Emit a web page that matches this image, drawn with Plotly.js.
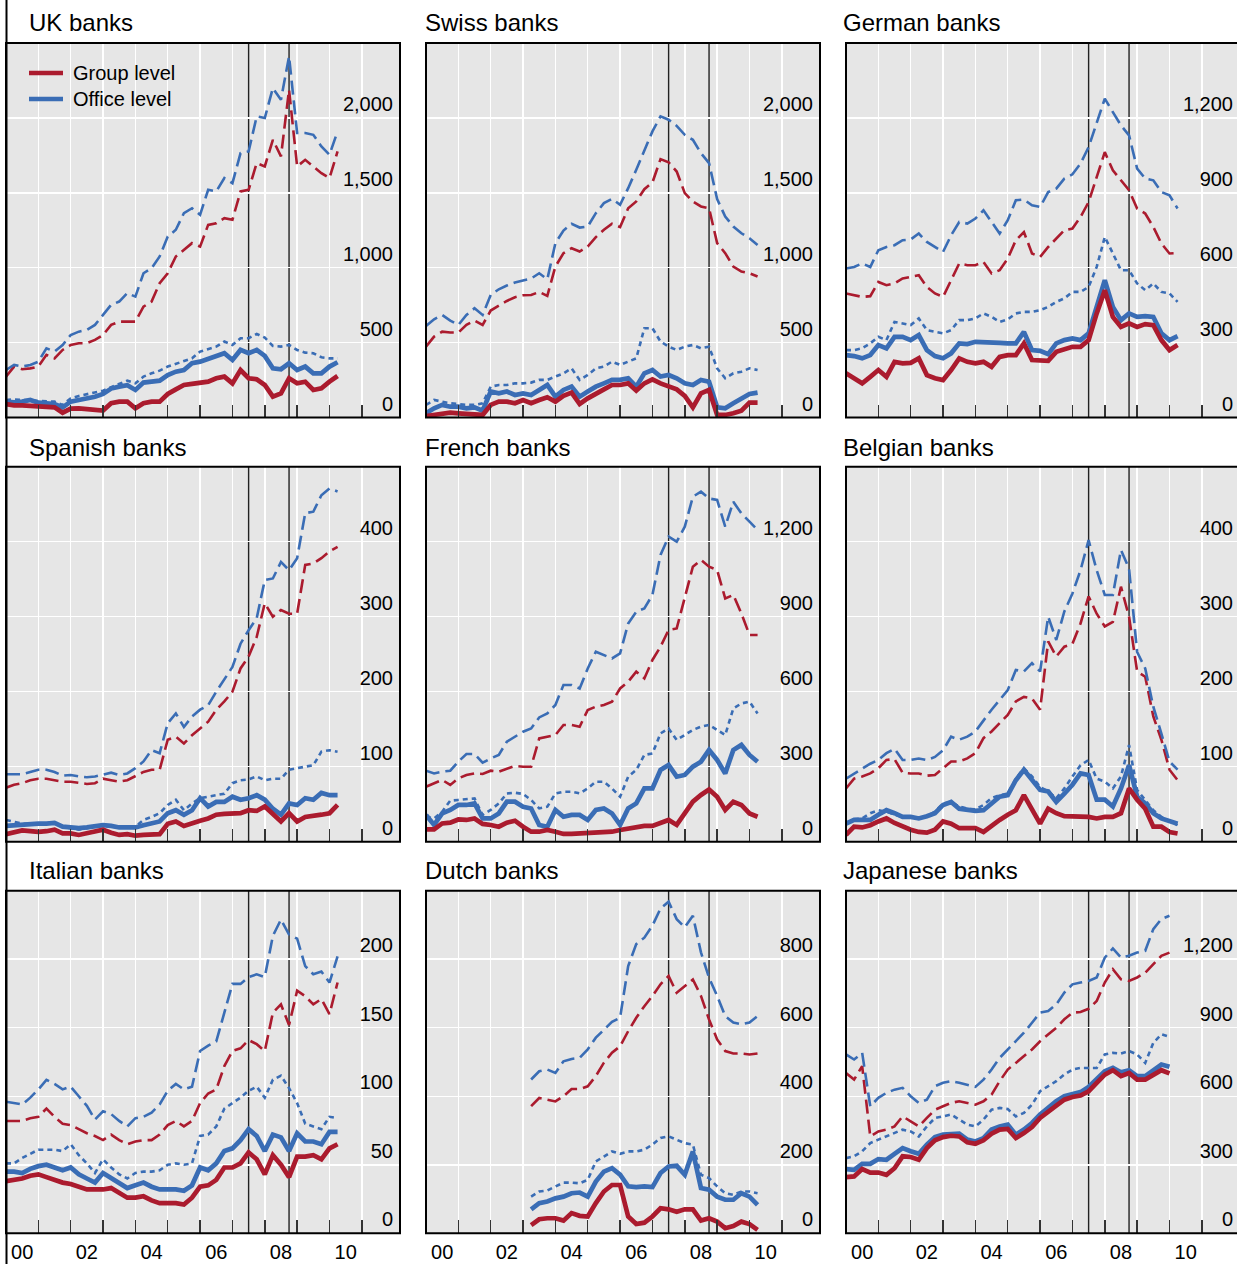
<!DOCTYPE html>
<html>
<head>
<meta charset="utf-8">
<script src="https://cdn.plot.ly/plotly-3.0.1.min.js"></script>
<style>
  html, body { margin: 0; padding: 0; background: #fff; overflow: hidden; }
  #chart { width: 1246px; height: 1264px; }
</style>
</head>
<body>
<div id="chart"></div>
<script>
// Quarterly observations, 2000 Q1 to 2010 Q2 (USD billions)
const START_YEAR = 2000;
const N_QUARTERS = 42;
const quarters = Array.from({ length: N_QUARTERS }, (_, i) => START_YEAR + i / 4);

// Event markers (mid-2007 and Q3 2008)
const eventDates = [2007.5, 2008.75];

// Year tick labels on the bottom row
const yearLabelPos = [2000.5, 2002.5, 2004.5, 2006.5, 2008.5, 2010.5];
const yearLabels = ['00', '02', '04', '06', '08', '10'];
const yearBoundaries = [2001, 2002, 2003, 2004, 2005, 2006, 2007, 2008, 2009, 2010, 2011];

// ---- UK banks
const ukGroupDashed  = [273,340,322,328,340,418,395,451,484,496,496,518,551,618,640,640,640,740,774,896,963,1075,1119,1164,1141,1286,1297,1331,1320,1509,1520,1698,1676,1854,1743,2188,1676,1720,1676,1631,1598,1776];
const ukOfficeDashed = [317,351,340,351,373,462,440,484,551,573,585,618,685,752,774,830,807,963,997,1075,1208,1253,1364,1397,1353,1520,1509,1598,1564,1765,1776,2010,1999,2199,2121,2411,1899,1899,1887,1809,1754,1910];
const ukOfficeDotted = [117,121,117,117,110,106,106,84,128,144,157,166,179,202,224,246,228,273,295,313,340,357,373,395,440,455,473,507,484,529,529,558,533,478,473,484,451,433,429,402,395,395];
const ukOfficeSolid  = [106,101,106,117,99,95,90,68,106,117,126,139,157,193,206,215,184,233,239,246,284,306,317,362,373,389,411,429,384,451,429,451,411,328,322,362,317,340,295,295,340,369];
const ukGroupSolid   = [90,81,81,77,77,72,68,32,59,61,55,50,46,95,106,106,61,95,106,106,157,188,217,224,228,239,262,273,228,317,262,255,217,139,161,262,228,239,184,195,239,277];

// ---- Swiss banks
const chGroupDashed  = [473,540,573,567,567,618,647,618,714,745,778,803,816,818,838,812,1008,1097,1130,1108,1141,1204,1253,1293,1271,1397,1442,1524,1569,1725,1703,1642,1498,1442,1409,1397,1164,1097,1008,974,963,941];
const chOfficeDashed = [611,656,685,647,618,685,729,685,818,856,881,901,914,928,963,923,1164,1248,1293,1268,1275,1364,1431,1460,1420,1531,1654,1787,1910,2010,1988,1947,1887,1854,1765,1698,1458,1342,1275,1230,1197,1152];
const chOfficeDotted = [84,117,106,95,90,84,84,95,206,217,217,228,228,233,251,251,273,295,328,251,284,328,340,373,351,373,395,596,596,507,473,451,473,484,462,473,328,262,295,306,328,317];
const chOfficeSolid  = [28,61,84,72,72,61,68,46,173,161,173,150,161,150,184,217,139,184,206,139,173,206,228,251,251,262,206,295,317,273,284,262,228,217,251,239,68,61,95,128,157,166];
const chGroupSolid   = [10,17,23,32,28,23,23,17,84,106,106,95,117,95,117,135,106,144,166,90,128,161,188,217,217,228,179,228,255,228,210,188,144,68,161,184,17,17,28,46,99,99];

// ---- German banks
const deGroupDashed  = [497,490,483,486,543,530,537,557,563,570,523,497,483,550,617,610,610,623,577,590,637,710,743,657,643,683,717,750,757,803,863,963,1063,990,950,910,837,817,763,697,657,659];
const deOfficeDashed = [597,603,617,603,670,683,690,710,713,737,703,683,663,730,783,777,797,830,783,737,790,870,873,850,843,903,917,957,974,1017,1083,1177,1277,1223,1170,1130,997,957,950,903,890,837];
const deOfficeDotted = [270,270,277,297,323,310,383,377,370,397,350,343,337,350,390,390,397,417,403,383,393,417,423,423,430,443,463,477,503,503,523,603,723,657,590,590,537,510,537,503,497,463];
const deOfficeSolid  = [250,246,237,250,290,277,323,323,310,330,270,246,237,257,297,294,303,303,303,299,297,297,343,270,267,254,297,310,317,310,337,443,550,443,390,417,403,406,403,337,310,326];
const deGroupSolid   = [177,157,137,163,190,163,223,217,219,237,170,157,150,190,237,223,217,223,203,243,250,250,297,230,230,227,263,273,283,283,310,417,510,403,363,377,363,374,370,310,270,290];

// ---- Spanish banks
const esGroupDashed  = [72,76,78,82,84,84,82,80,80,78,77,78,84,82,80,82,87,93,96,96,136,140,131,142,151,160,176,187,200,231,247,273,318,300,309,304,304,369,371,378,387,393];
const esOfficeDashed = [90,90,90,93,96,96,93,88,89,87,86,87,90,92,89,91,98,107,122,118,158,171,153,167,176,182,200,216,233,264,282,298,349,351,373,362,378,438,440,462,471,467];
const esOfficeDotted = [29,27,24,24,24,24,25,20,18,16,18,20,22,20,19,19,20,29,33,38,49,56,42,51,58,60,62,64,78,82,83,87,82,84,84,96,98,100,102,120,122,120];
const esOfficeSolid  = [21,22,22,24,24,24,25,20,19,18,19,21,22,21,19,19,19,22,24,27,38,42,36,42,58,47,53,53,60,56,58,62,56,44,36,51,49,58,56,65,62,62];
const esGroupSolid   = [10,13,15,14,13,14,16,11,11,9,11,13,16,12,9,10,8,9,10,10,24,27,21,25,28,31,36,37,38,38,42,41,47,38,27,38,27,33,34,36,38,49];

// ---- French banks
const frGroupDashed  = [220,233,247,227,253,267,273,271,284,280,293,303,300,300,413,420,427,467,467,460,527,540,547,560,613,640,680,653,727,780,847,853,980,1100,1127,1100,1087,973,987,913,827,827];
const frOfficeDashed = [284,273,280,284,320,351,351,316,333,347,400,420,440,453,497,513,547,627,627,613,693,760,747,733,753,873,920,933,987,1147,1220,1200,1260,1380,1400,1373,1367,1260,1360,1313,1280,1247];
const frOfficeDotted = [100,93,120,164,167,169,173,107,127,153,193,196,191,167,133,140,193,200,200,193,213,240,240,213,180,260,287,347,353,433,453,407,427,447,460,467,447,427,533,553,560,513];
const frOfficeSolid  = [107,67,113,127,147,147,153,93,93,113,160,160,140,133,67,60,127,100,107,107,87,127,133,113,67,133,153,213,213,287,307,260,267,300,320,367,327,273,367,387,347,320];
const frGroupSolid   = [49,49,73,76,89,87,93,71,67,60,76,84,60,40,40,47,40,31,31,33,33,33,36,40,47,53,57,63,63,73,87,67,113,160,187,209,180,127,160,147,113,100];

// ---- Belgian banks
const beGroupDashed  = [71,84,87,91,98,109,110,92,91,91,88,89,98,107,107,111,118,138,147,158,169,187,193,191,176,267,247,260,264,291,327,304,287,293,340,300,227,220,167,136,96,82];
const beOfficeDashed = [84,91,98,104,109,118,124,109,109,111,109,113,122,140,136,140,147,162,176,189,202,229,227,238,227,300,269,307,331,362,402,362,329,329,389,364,253,231,180,144,107,96];
const beOfficeDotted = [24,30,31,38,42,40,36,33,33,31,34,40,51,53,47,44,43,49,58,62,64,84,98,87,73,67,58,71,87,102,109,84,80,71,87,129,69,56,42,33,27,22];
const beOfficeSolid  = [24,29,29,29,36,42,38,33,33,31,34,38,49,53,44,42,41,42,51,60,62,82,96,82,69,67,53,64,76,91,89,56,56,47,71,102,60,51,38,31,27,24];
const beGroupSolid   = [9,20,19,22,27,31,25,20,16,13,12,16,27,24,18,18,18,13,22,29,36,42,62,42,24,44,38,34,34,34,33,31,33,33,38,71,56,44,20,20,13,11];

// ---- Italian banks
const itGroupDashed  = [82,82,82,84,85,91,85,80,79,76,73,71,68,72,68,65,67,68,68,72,79,82,78,82,95,102,105,122,133,135,141,138,133,161,167,152,177,173,167,171,160,183];
const itOfficeDashed = [96,95,94,99,105,112,109,105,107,100,93,83,89,87,82,78,84,85,88,94,104,109,105,107,133,137,140,161,182,182,187,189,187,217,229,218,215,195,189,191,183,202];
const itOfficeDotted = [51,51,55,58,61,61,61,60,65,57,51,44,54,48,43,40,44,45,45,46,50,51,50,51,71,72,78,91,95,99,104,107,99,112,115,106,95,80,78,76,85,84];
const itOfficeSolid  = [45,45,44,47,49,50,48,46,48,43,40,37,44,40,37,33,35,37,34,32,32,32,31,35,48,46,51,60,62,68,76,71,60,72,70,60,73,67,67,65,74,74];
const itGroupSolid   = [38,39,40,42,43,41,39,37,36,34,32,32,32,33,29,26,26,27,24,22,22,22,21,26,34,35,39,48,48,51,59,54,43,57,50,41,56,56,57,54,62,65];

// ---- Dutch banks (reported from 2003 Q2)
const nlGroupDashed  = [null,null,null,null,null,null,null,null,null,null,null,null,null,371,395,390,385,400,421,421,429,459,498,527,546,590,629,663,693,727,751,702,722,741,693,624,566,532,525,525,522,525];
const nlOfficeDashed = [null,null,null,null,null,null,null,null,null,null,null,null,null,449,473,478,468,502,509,512,537,571,595,617,629,780,844,863,898,948,968,917,893,927,820,746,693,634,615,610,615,634];
const nlOfficeDotted = [null,null,null,null,null,null,null,null,null,null,null,null,null,107,122,125,137,148,148,146,156,210,224,239,232,239,239,244,259,278,283,273,263,259,171,161,137,117,112,122,122,117];
const nlOfficeSolid  = [null,null,null,null,null,null,null,null,null,null,null,null,null,70,88,93,102,107,117,119,107,151,180,190,171,137,135,137,135,176,195,197,171,239,132,127,107,98,98,117,107,83];
const nlGroupSolid   = [null,null,null,null,null,null,null,null,null,null,null,null,null,24,41,44,44,37,59,51,49,88,122,141,141,49,27,31,49,73,70,63,70,70,37,44,34,15,21,34,27,10];

// ---- Japanese banks (through 2010 Q1)
const jpGroupDashed  = [702,673,732,424,446,454,468,512,490,468,505,541,556,571,578,571,563,578,607,666,717,746,776,805,841,871,900,937,966,969,983,1017,1098,1156,1112,1105,1120,1141,1178,1215,1229,null];
const jpOfficeDashed = [783,761,790,556,593,615,629,637,600,571,585,644,659,666,659,651,641,673,717,768,805,841,878,922,966,973,1002,1054,1090,1098,1105,1120,1207,1247,1207,1215,1229,1237,1332,1376,1390,null];
const jpOfficeDotted = [329,337,359,395,410,424,439,454,446,424,468,505,512,520,498,476,468,498,541,549,544,512,527,563,622,644,666,695,717,724,724,724,783,790,787,798,783,746,834,871,860,null];
const jpOfficeSolid  = [281,278,304,304,325,322,348,373,359,348,388,421,432,436,436,410,402,417,454,468,476,432,454,483,520,549,578,600,610,618,641,673,710,724,705,714,688,688,714,739,729,null];
const jpGroupSolid   = [246,249,281,266,266,256,285,337,334,322,373,407,421,427,424,398,392,407,436,454,457,417,439,465,505,534,559,585,597,603,622,659,695,714,688,702,673,673,695,714,700,null];

// Panel titles and y-axis scales (max, tick step)
const panelTitles = ['UK banks', 'Swiss banks', 'German banks', 'Spanish banks', 'French banks', 'Belgian banks', 'Italian banks', 'Dutch banks', 'Japanese banks'];
const yMax  = [2500, 2500, 1500, 500, 1500, 500, 250, 1000, 1500];
const yStep = [500, 500, 300, 100, 300, 100, 50, 200, 300];

// Legend entries
const legendNames = ['Group level', 'Office level'];

const panelSeries = [
  [ukGroupDashed, ukOfficeDashed, ukOfficeDotted, ukOfficeSolid, ukGroupSolid],
  [chGroupDashed, chOfficeDashed, chOfficeDotted, chOfficeSolid, chGroupSolid],
  [deGroupDashed, deOfficeDashed, deOfficeDotted, deOfficeSolid, deGroupSolid],
  [esGroupDashed, esOfficeDashed, esOfficeDotted, esOfficeSolid, esGroupSolid],
  [frGroupDashed, frOfficeDashed, frOfficeDotted, frOfficeSolid, frGroupSolid],
  [beGroupDashed, beOfficeDashed, beOfficeDotted, beOfficeSolid, beGroupSolid],
  [itGroupDashed, itOfficeDashed, itOfficeDotted, itOfficeSolid, itGroupSolid],
  [nlGroupDashed, nlOfficeDashed, nlOfficeDotted, nlOfficeSolid, nlGroupSolid],
  [jpGroupDashed, jpOfficeDashed, jpOfficeDotted, jpOfficeSolid, jpGroupSolid]
];

// ---- Styling
const RED = '#AB1B2E';
const BLUE = '#3A6DB5';
const FONT = 'Liberation Sans, Arial, Helvetica, sans-serif';
const W = 1246, H = 1264;

// panel boxes in pixels
const colPx = [[6, 400], [426, 820], [846, 1240]];
const rowPx = [[43, 417.5], [466.7, 841.7], [890.7, 1233.3]];
const titleX = [27, 423, 841];
const titleY = [23, 447, 870];

const lineStyles = [
  { color: RED,  width: 2.6, dash: '14px,6px' },
  { color: BLUE, width: 2.6, dash: '14px,6px' },
  { color: BLUE, width: 2.6, dash: '5px,4px' },
  { color: BLUE, width: 4.7, dash: 'solid' },
  { color: RED,  width: 4.7, dash: 'solid' }
];

const traces = [];
const layout = {
  width: W, height: H,
  margin: { l: 0, r: 0, t: 0, b: 0 },
  paper_bgcolor: '#ffffff',
  plot_bgcolor: '#E6E6E6',
  font: { family: FONT, size: 20, color: '#000' },
  showlegend: false,
  shapes: [],
  annotations: []
};

for (let k = 0; k < 9; k++) {
  const r = Math.floor(k / 3), c = k % 3, n = k + 1;
  const xa = 'xaxis' + (n === 1 ? '' : n), ya = 'yaxis' + (n === 1 ? '' : n);
  const xr = 'x' + (n === 1 ? '' : n), yr = 'y' + (n === 1 ? '' : n);
  const x0 = colPx[c][0] / W, x1 = colPx[c][1] / W;
  const y0 = 1 - rowPx[r][1] / H, y1 = 1 - rowPx[r][0] / H;

  const ticks = [];
  for (let v = 0; v < yMax[k]; v += yStep[k]) ticks.push(v);

  layout[xa] = {
    domain: [x0, x1],
    anchor: yr,
    range: [2000, 2012.18],
    showgrid: false, zeroline: false,
    tickmode: 'array', tickvals: yearLabelPos, ticktext: yearLabels,
    showticklabels: r === 2, ticks: '',
    ticklabelstandoff: 5,
    tickfont: { family: FONT, size: 20, color: '#000' },
    minor: {
      tickmode: 'array', tickvals: yearBoundaries,
      ticks: 'inside', ticklen: 13, tickwidth: 1.5, tickcolor: '#333',
      showgrid: true, gridcolor: '#ffffff', gridwidth: 1.5
    },
    showline: false,
    fixedrange: true
  };
  // value axis sits on the right edge, labels drawn leftwards into the panel
  layout[ya] = {
    domain: [y0, y1],
    anchor: 'free', position: x1,
    side: 'left',
    range: [0, yMax[k]],
    tickmode: 'array', tickvals: ticks,
    tickformat: ',d',
    ticks: '',
    ticklabelposition: 'outside top',
    ticklabelstandoff: 7,
    ticklabeloverflow: 'allow',
    tickfont: { family: FONT, size: 20, color: '#000' },
    showgrid: true, gridcolor: '#ffffff', gridwidth: 1.5,
    zeroline: false,
    showline: false,
    fixedrange: true
  };

  panelSeries[k].forEach((vals, s) => {
    traces.push({
      type: 'scatter', mode: 'lines',
      x: quarters, y: vals,
      xaxis: xr, yaxis: yr,
      line: Object.assign({}, lineStyles[s]),
      connectgaps: false,
      hoverinfo: 'skip'
    });
  });

  eventDates.forEach(d => {
    layout.shapes.push({
      type: 'line', xref: xr, yref: 'paper',
      x0: d, x1: d, y0: y0, y1: y1,
      line: { color: '#222', width: 1.4 },
      layer: 'below'
    });
  });

  // panel frame
  layout.shapes.push({
    type: 'rect', xref: 'paper', yref: 'paper',
    x0: x0, x1: x1, y0: y0, y1: y1,
    line: { color: '#000', width: 2 }, fillcolor: 'rgba(0,0,0,0)',
    layer: 'above'
  });

  layout.annotations.push({
    text: panelTitles[k], showarrow: false,
    xref: 'paper', yref: 'paper',
    x: titleX[c] / W, y: 1 - titleY[r] / H,
    xanchor: 'left', yanchor: 'middle',
    font: { family: FONT, size: 24, color: '#000' }
  });
}

// legend keys inside the first panel
const legendColors = [RED, BLUE];
const legendRowsPx = [73, 99];
legendNames.forEach((name, i) => {
  const yy = 1 - legendRowsPx[i] / H;
  layout.shapes.push({
    type: 'line', xref: 'paper', yref: 'paper',
    x0: 29 / W, x1: 63 / W, y0: yy, y1: yy,
    line: { color: legendColors[i], width: 4.7 }, layer: 'above'
  });
  layout.annotations.push({
    text: name, showarrow: false, xref: 'paper', yref: 'paper',
    x: 71 / W, y: yy, xanchor: 'left', yanchor: 'middle',
    font: { family: FONT, size: 20, color: '#000' }
  });
});

// left rule running the full height of the figure
layout.shapes.push({
  type: 'line', xref: 'paper', yref: 'paper',
  x0: 6.5 / W, x1: 6.5 / W, y0: 0, y1: 1,
  line: { color: '#000', width: 2 }, layer: 'above'
});

Plotly.newPlot('chart', traces, layout, { staticPlot: true, displayModeBar: false });
</script>
</body>
</html>
